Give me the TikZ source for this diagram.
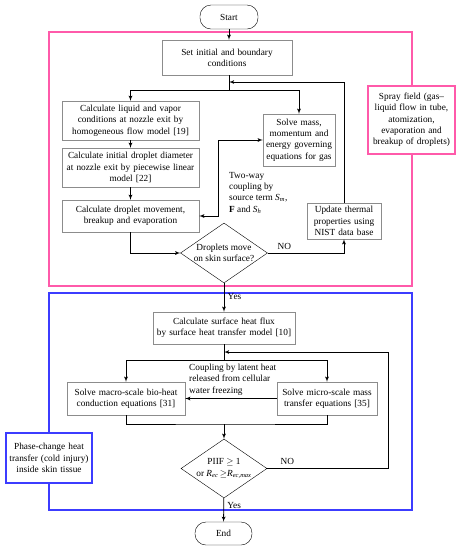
\documentclass[tikz,border=0pt]{standalone}
\usepackage{fontspec}
\setmainfont{Liberation Serif}
\usetikzlibrary{arrows,shapes.geometric}

\definecolor{pinkzone}{RGB}{255,90,170}
\definecolor{bluezone}{RGB}{60,60,255}
\newcommand{\ivar}[2]{\textit{#1}\textsubscript{\textit{#2}}}

\begin{document}
\begin{tikzpicture}[x=1pt,y=-1pt,font=\fontsize{9.3}{11.3}\selectfont]

\tikzset{box/.style = {shape=rectangle,draw=black!45,fill=white,align=center,inner sep=2pt}}
\tikzset{term/.style = {shape=rectangle,draw,rounded corners=11pt,minimum width=58pt,minimum height=24pt}}
\tikzset{test/.style = {shape=diamond,draw,fill=white,align=center,inner sep=-4pt,aspect=1.45}}
\tikzset{edge/.style = {->,> = latex',line width=0.8pt}}
\tikzset{line/.style = {line width=0.8pt}}
\tikzset{zone/.style = {draw=#1,line width=1.2pt}}

\useasboundingbox (0,0) rectangle (461,550);

% zones
\draw[zone=pinkzone] (49,32) rectangle (412,286);
\draw[zone=bluezone] (49,293) rectangle (412,510);

% vertices
\node[term] (start) at (229,17) {Start};
\node[box,minimum width=130pt,minimum height=35pt,text width=124pt] (set) at (227,57.5) {Set initial and boundary\\conditions};

\node[box,minimum width=137pt,minimum height=39pt,text width=133pt] (liq) at (130.5,120.5) {Calculate liquid and vapor\\conditions at nozzle exit by\\homogeneous flow model [19]};
\node[box,minimum width=137pt,minimum height=39pt,text width=133pt] (diam) at (130.5,167.5) {Calculate initial droplet diameter\\at nozzle exit by piecewise linear\\model [22]};
\node[box,minimum width=137pt,minimum height=32pt,text width=133pt] (mov) at (130.5,216) {Calculate droplet movement,\\breakup and evaporation};

\node[box,minimum width=72pt,minimum height=52pt,text width=68pt] (gas) at (299,140) {Solve mass,\\momentum and\\energy governing\\equations for gas};
\node[box,minimum width=74pt,minimum height=36pt,text width=70pt] (upd) at (344,221) {Update thermal\\properties using\\NIST data base};
\node[test,minimum width=87pt,minimum height=60pt] (drop) at (224,253) {Droplets move\\on skin surface?};

\node[box,draw=pinkzone,line width=1.2pt,minimum width=87pt,minimum height=68pt,text width=83pt] (spray) at (411.5,120) {Spray field (gas--\\liquid flow in tube,\\atomization,\\evaporation and\\breakup of droplets)};

\node[box,minimum width=142pt,minimum height=32pt,text width=138pt] (heat) at (224,328) {Calculate surface heat flux\\by surface heat transfer model [10]};
\node[box,minimum width=118pt,minimum height=33pt,text width=114pt] (macro) at (126,398.5) {Solve macro-scale bio-heat\\conduction equations [31]};
\node[box,minimum width=100pt,minimum height=33pt,text width=96pt] (micro) at (327,398.5) {Solve micro-scale mass\\transfer equations [35]};
\node[test,minimum width=86pt,minimum height=59pt] (crit) at (224,468.5) {PIIF $\geq$ 1\\or \ivar{R}{ec}\,$\geq$\ivar{R}{ec,max}};
\node[term,minimum width=57pt,minimum height=23pt] (endn) at (223.5,533.5) {End};

\node[box,draw=bluezone,line width=1.2pt,minimum width=86pt,minimum height=50pt,text width=82pt] (phase) at (49,458) {Phase-change heat\\transfer (cold injury)\\inside skin tissue};

% junctions
\coordinate (j1) at (229,90);
\coordinate (j2) at (229,82);
\coordinate (tw) at (218,140);
\coordinate (j3) at (224,360);
\coordinate (j4) at (224,352);
\coordinate (fb) at (388,352);
\coordinate (j5) at (224,424);

%edges
\draw[edge] (start) -- (start |- set.north);
\draw[line] (start |- set.south) -- (j1);
\draw[edge] (j1) -| (liq);
\draw[edge] (j1) -| (gas);
\draw[edge] (upd) -- (upd |- j2) -- (j2);

\draw[edge] (liq) -- (diam);
\draw[edge] (diam) -- (mov);
\draw[edge,<->] (gas.west) -- (tw) |- (mov.east);
\node[anchor=north west,align=left,inner sep=0pt] (twoway) at (229,172) {Two-way\\coupling by\\source term \ivar{S}{m},\\\textbf{F} and \ivar{S}{h}};

\draw[edge] (mov) |- (drop);
\draw[edge] (drop) -| node[pos=0.04,anchor=south west] {NO} (upd);
\draw[edge] (drop) -- node[pos=0.45,right] {Yes} (heat);

\draw[line] (heat) -- (j3);
\draw[edge] (j3) -| (macro);
\draw[edge] (j3) -| (micro);
\draw[edge] (micro) -- (macro);
\node[anchor=north west,align=left,inner sep=0pt] (couple) at (189,364) {Coupling by latent heat\\released from cellular\\water freezing};

\draw[line] (macro) |- (j5) -| (micro);
\draw[edge] (j5) -- (crit);
\draw[edge] (crit) -| node[pos=0.04,anchor=south west] {NO} (fb) -- (j4);
\draw[edge] (crit) -- node[pos=0.3,right] {Yes} (endn);

\end{tikzpicture}
\end{document}
